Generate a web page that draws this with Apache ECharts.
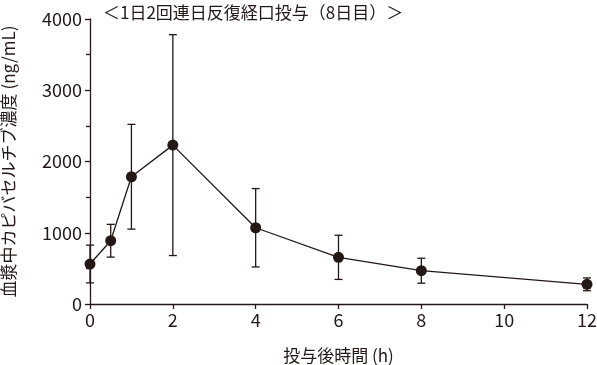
<!DOCTYPE html>
<html><head><meta charset="utf-8">
<script src="https://cdn.jsdelivr.net/npm/echarts@6/dist/echarts.min.js"></script>
<style>html,body{margin:0;padding:0;background:#fff}#c{width:597px;height:365px}</style>
</head><body><div id="c"></div>
<script>
const times = [0, 0.5, 1, 2, 4, 6, 8, 12];
const means = [561, 888, 1786, 2230, 1070, 655, 467, 276];
const sds = [265, 230, 735, 1550, 550, 310, 175, 90];
const xTicks = [0, 2, 4, 6, 8, 10, 12];
const yTicks = [0, 1000, 2000, 3000, 4000];
const titleText = '＜1日2回連日反復経口投与（8日目）＞';
const xName = '投与後時間 (h)';
const yName = '血漿中カピバセルチブ濃度 (ng/mL)';

const ink = '#231815';
const font = '"Noto Sans CJK JP", "Noto Sans", sans-serif';
const lineData = times.map((t, i) => [t, means[i]]);
const errData = times.map((t, i) => [t, means[i] - sds[i], means[i] + sds[i]]);

const chart = echarts.init(document.getElementById('c'));
chart.setOption({
  animation: false,
  title: {text: titleText, left: 98, top: -1, textStyle: {fontFamily: font, fontSize: 17, fontWeight: 'normal', color: ink}},
  grid: {left: 90, right: 10, top: 19, bottom: 61, containLabel: false, outerBoundsMode: 'none'},
  xAxis: {
    type: 'value', min: xTicks[0], max: xTicks[xTicks.length - 1], interval: 2,
    name: xName, nameLocation: 'middle', nameGap: 43,
    nameTextStyle: {fontFamily: font, fontSize: 17, color: ink},
    axisLine: {lineStyle: {color: ink, width: 1.3}},
    axisTick: {show: true, length: 5, lineStyle: {color: ink, width: 1.3}},
    axisLabel: {fontFamily: font, fontSize: 18, color: ink, margin: 7},
    splitLine: {show: false}
  },
  yAxis: {
    type: 'value', min: yTicks[0], max: yTicks[yTicks.length - 1], interval: 1000,
    name: yName, nameLocation: 'middle', nameGap: 73,
    nameTextStyle: {fontFamily: font, fontSize: 17, color: ink},
    axisLine: {show: true, lineStyle: {color: ink, width: 1.3}},
    axisTick: {show: true, length: 5, lineStyle: {color: ink, width: 1.3}},
    minorTick: {show: true, splitNumber: 2, length: 4, lineStyle: {color: ink, width: 1.3}},
    axisLabel: {fontFamily: font, fontSize: 18, color: ink, margin: 8, formatter: v => String(v)},
    splitLine: {show: false}
  },
  series: [
    {
      type: 'custom', z: 2,
      data: errData,
      renderItem: function (params, api) {
        const x = api.value(0);
        const lo = api.coord([x, api.value(1)]);
        const hi = api.coord([x, api.value(2)]);
        const w = 4;
        const st = {stroke: ink, lineWidth: 1.3, fill: null};
        return {type: 'group', children: [
          {type: 'line', shape: {x1: lo[0], y1: lo[1], x2: hi[0], y2: hi[1]}, style: st},
          {type: 'line', shape: {x1: lo[0] - w, y1: lo[1], x2: lo[0] + w, y2: lo[1]}, style: st},
          {type: 'line', shape: {x1: hi[0] - w, y1: hi[1], x2: hi[0] + w, y2: hi[1]}, style: st}
        ]};
      }
    },
    {
      type: 'line', z: 3, data: lineData,
      symbol: 'circle', symbolSize: 11,
      lineStyle: {color: ink, width: 1.3},
      itemStyle: {color: ink}
    }
  ]
});
</script></body></html>
